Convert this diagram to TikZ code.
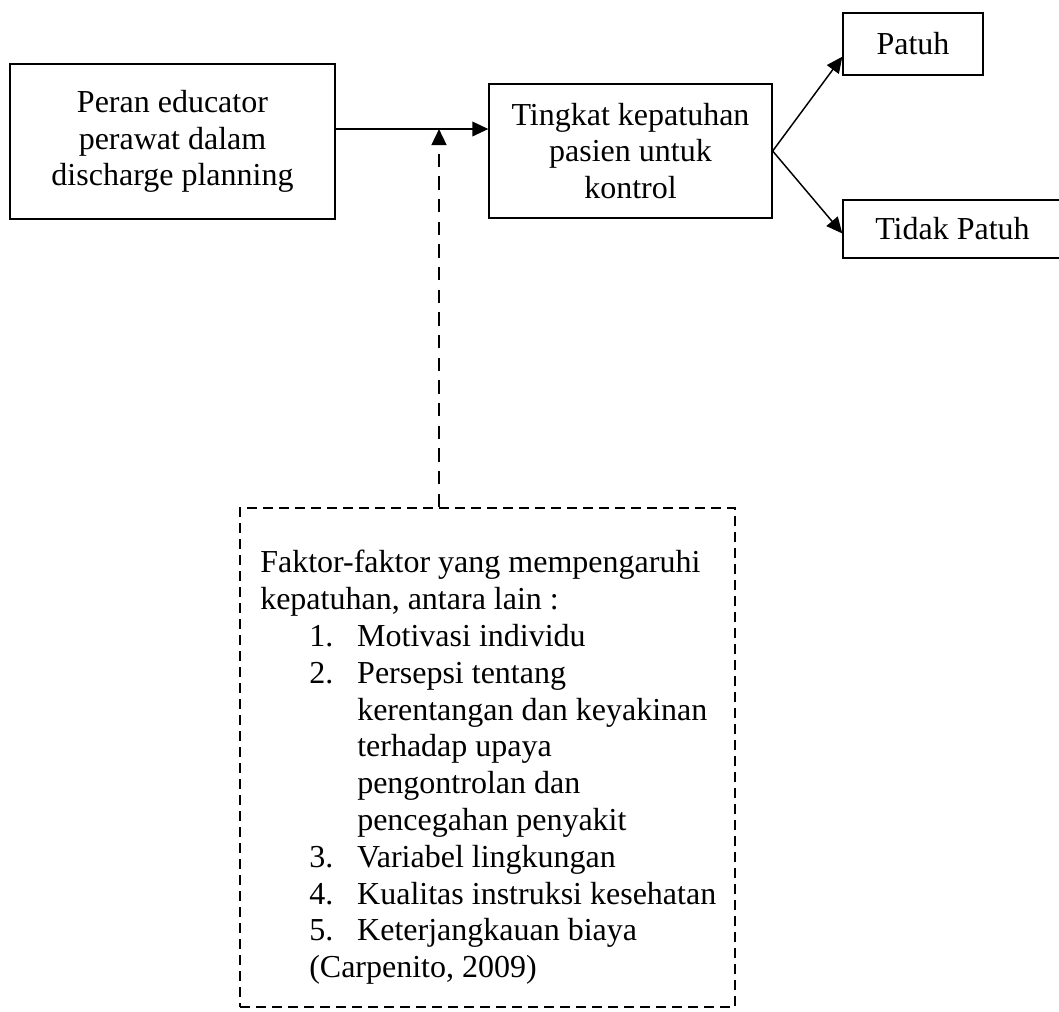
\documentclass[tikz,border=0pt]{standalone}
\usepackage{fontspec}
\setmainfont{Liberation Serif}
\usepackage{tikz}
\usetikzlibrary{calc}
\usetikzlibrary{arrows.meta}
\tikzset{
    kotak/.style={draw, line width=1pt, align=center, inner sep=0pt, font=\fontsize{24pt}{27.6pt}\selectfont},
    panah/.style={-{Triangle[length=12pt,width=11pt]}, line width=1.1pt},
    putus/.style={line width=1.7pt, dash pattern=on 7.5pt off 4.5pt},
    putusgaris/.style={line width=1.8pt, dash pattern=on 10pt off 7pt}
}
\newcommand{\butir}[1]{\hspace*{36.75pt}\makebox[36pt][l]{#1}}
\newcommand{\lanjut}{\hspace*{72.75pt}}

\begin{document}
\begin{tikzpicture}[x=0.75pt,y=-0.75pt]
\useasboundingbox (0,0) rectangle (1059,1011);
\node[kotak, minimum width=243.75pt, minimum height=116.25pt] (peran) at (172.5,141.5) {Peran educator\\perawat dalam\\discharge planning};
\node[kotak, minimum width=212.25pt, minimum height=100.5pt] (tingkat) at (630.5,151) {Tingkat kepatuhan\\pasien untuk\\kontrol};
\node[kotak, minimum width=105pt, minimum height=46.5pt] (patuh) at (913,44) {Patuh};
\node[kotak, minimum width=164.25pt, minimum height=43.5pt] (tidak) at (952.5,229) {Tidak Patuh};
\node[kotak, putus, minimum width=371.25pt, minimum height=374.25pt] (faktor) at (487.5,757.5) {};
\node[anchor=north west, inner sep=0pt, align=left, font=\fontsize{24pt}{27.6pt}\selectfont] (daftar) at (260,550) {Faktor-faktor yang mempengaruhi\\
kepatuhan, antara lain :\\
\butir{1.}Motivasi individu\\
\butir{2.}Persepsi tentang\\
\lanjut kerentangan dan keyakinan\\
\lanjut terhadap upaya\\
\lanjut pengontrolan dan\\
\lanjut pencegahan penyakit\\
\butir{3.}Variabel lingkungan\\
\butir{4.}Kualitas instruksi kesehatan\\
\butir{5.}Keterjangkauan biaya\\
\hspace*{36.75pt}(Carpenito, 2009)};
\coordinate (temu) at (439,129);
\draw[panah] (peran.east |- temu) -- (tingkat.west |- temu);
\draw[panah, putusgaris] (faktor.north -| temu) -- (temu);
\draw[panah] (tingkat.east) -- ($(patuh.west)!0.4!(patuh.south west)$);
\draw[panah] (tingkat.east) -- ($(tidak.west)!0.15!(tidak.south west)$);
\end{tikzpicture}
\end{document}
